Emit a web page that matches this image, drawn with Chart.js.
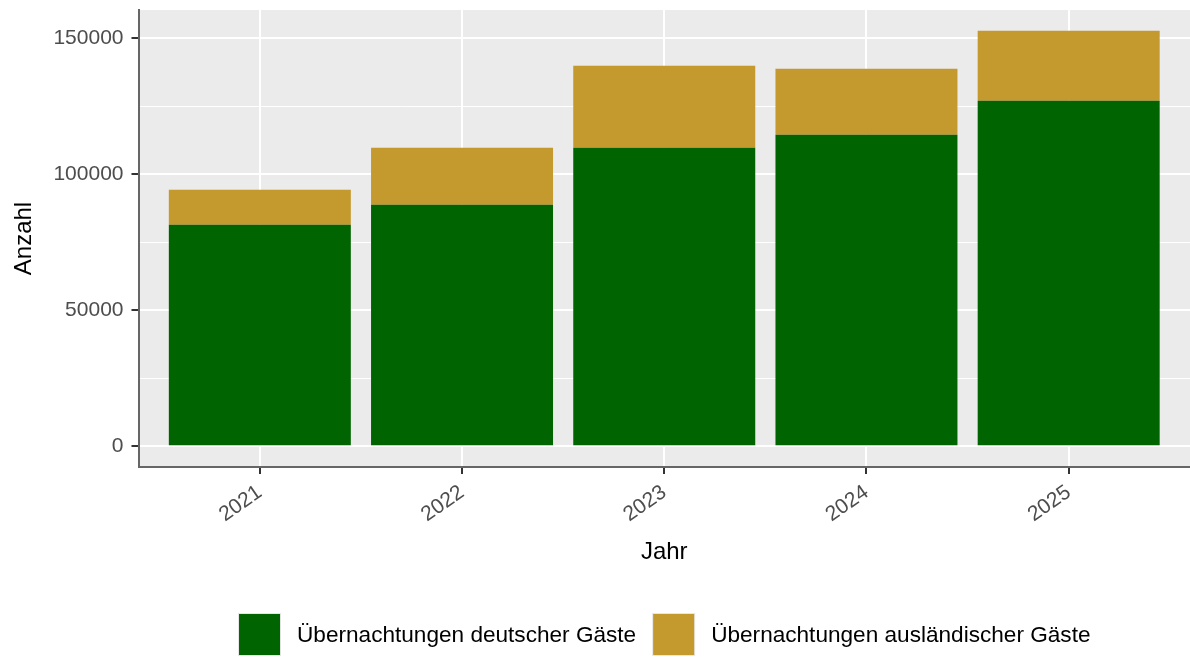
<!DOCTYPE html>
<html>
<head>
<meta charset="utf-8">
<script src="https://cdn.jsdelivr.net/npm/chart.js@4/dist/chart.umd.min.js"></script>
<style>
  html, body { margin: 0; padding: 0; background: #ffffff; }
  #wrap { width: 1190px; height: 657px; }
</style>
</head>
<body>
<div id="wrap"><canvas id="c" width="1190" height="657"></canvas></div>
<script>
// ---- data ----
const years = ['2021', '2022', '2023', '2024', '2025'];
const domestic = [81400, 88800, 109700, 114500, 127000];
const foreign = [12900, 20900, 30100, 24200, 25700];
const seriesNames = ['Übernachtungen deutscher Gäste', 'Übernachtungen ausländischer Gäste'];
const seriesColors = ['#006400', '#C4992D'];
const yMajorTicks = [0, 50000, 100000, 150000];
const yMinorTicks = [25000, 75000, 125000];

const FONT = "'Liberation Sans', Arial, sans-serif";
const totals = domestic.map((d, i) => d + foreign[i]);
const yTop = Math.max(...totals);
const yExp = yTop * 0.05;

const panelBg = {
  id: 'panelBg',
  beforeDraw(chart) {
    const a = chart.chartArea, ctx = chart.ctx;
    ctx.save();
    ctx.fillStyle = '#EBEBEB';
    ctx.fillRect(a.left, a.top, a.right - a.left, a.bottom - a.top);
    ctx.restore();
  }
};

const customLegend = {
  id: 'customLegend',
  afterDraw(chart) {
    const ctx = chart.ctx, a = chart.chartArea;
    ctx.save();
    ctx.font = '22.6px ' + FONT;
    const box = 43, gapText = 16, gapItem = 16;
    const widths = seriesNames.map(t => ctx.measureText(t).width);
    let total = 0;
    widths.forEach((w, i) => { total += box + gapText + w + (i < widths.length - 1 ? gapItem : 0); });
    let x = (a.left + a.right) / 2 - total / 2;
    const yBox = 613;
    seriesNames.forEach((t, i) => {
      ctx.fillStyle = '#E6E6E6';
      ctx.fillRect(x, yBox, box, box);
      ctx.fillStyle = seriesColors[i];
      ctx.fillRect(x + 1, yBox + 1, box - 2, box - 2);
      ctx.fillStyle = '#000000';
      ctx.textBaseline = 'middle';
      ctx.textAlign = 'left';
      ctx.fillText(t, x + box + gapText, yBox + box / 2 + 1);
      x += box + gapText + widths[i] + gapItem;
    });
    ctx.restore();
  }
};

new Chart(document.getElementById('c'), {
  type: 'bar',
  data: {
    datasets: [
      {
        label: seriesNames[0],
        data: domestic.map((v, i) => ({ x: i, y: v })),
        backgroundColor: seriesColors[0],
        borderWidth: 0,
        barPercentage: 0.9,
        categoryPercentage: 1.0,
        stack: 's'
      },
      {
        label: seriesNames[1],
        data: foreign.map((v, i) => ({ x: i, y: v })),
        backgroundColor: seriesColors[1],
        borderWidth: 0,
        barPercentage: 0.9,
        categoryPercentage: 1.0,
        stack: 's'
      }
    ]
  },
  options: {
    responsive: false,
    animation: false,
    layout: { padding: { top: 10, right: 0, left: 0, bottom: 82 } },
    plugins: {
      legend: { display: false },
      tooltip: { enabled: false }
    },
    scales: {
      x: {
        type: 'linear',
        stacked: true,
        offset: false,
        min: -0.6,
        max: years.length - 1 + 0.6,
        afterBuildTicks(s) { s.ticks = years.map((y, i) => ({ value: i })); },
        afterFit(s) { s.height = 108; s.paddingLeft = 0; s.paddingRight = 0; },
        ticks: {
          autoSkip: false,
          minRotation: 35,
          maxRotation: 35,
          padding: 6,
          color: '#4D4D4D',
          font: { family: FONT, size: 21 },
          callback: (v) => years[v] !== undefined ? years[v] : ''
        },
        grid: {
          offset: false,
          color: '#FFFFFF',
          lineWidth: 2,
          tickColor: '#333333',
          tickLength: 7,
          tickWidth: 2
        },
        border: { display: true, color: '#666666', width: 2 },
        title: {
          display: true,
          text: 'Jahr',
          color: '#000000',
          font: { family: FONT, size: 24 },
          padding: { top: 0, bottom: 8 }
        }
      },
      y: {
        type: 'linear',
        stacked: true,
        min: -yExp,
        max: yTop + yExp,
        afterBuildTicks(s) {
          s.ticks = [...yMajorTicks, ...yMinorTicks].sort((a, b) => a - b).map(v => ({ value: v }));
        },
        afterFit(s) { s.width = 138.5; s.paddingTop = 0; s.paddingBottom = 0; },
        ticks: {
          padding: 8,
          color: '#4D4D4D',
          font: { family: FONT, size: 21 },
          callback: (v) => yMajorTicks.includes(v) ? String(v) : ''
        },
        grid: {
          color: '#FFFFFF',
          lineWidth: (ctx) => (ctx.tick && yMajorTicks.includes(ctx.tick.value)) ? 2 : 1,
          tickColor: (ctx) => (ctx.tick && yMajorTicks.includes(ctx.tick.value)) ? '#333333' : 'rgba(0,0,0,0)',
          tickLength: 7,
          tickWidth: 2
        },
        border: { display: true, color: '#666666', width: 2 },
        title: {
          display: true,
          text: 'Anzahl',
          color: '#000000',
          font: { family: FONT, size: 24 },
          padding: { top: 10, bottom: 0 }
        }
      }
    }
  },
  plugins: [panelBg, customLegend]
});
</script>
</body>
</html>
